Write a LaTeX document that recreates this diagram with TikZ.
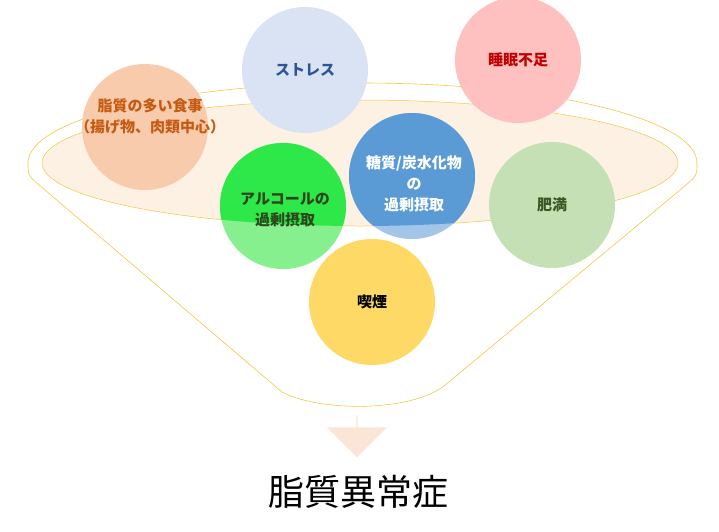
\documentclass[tikz,border=0pt]{standalone}
\usepackage{fontspec}
\setmainfont{Noto Sans CJK JP}
\usetikzlibrary{positioning,shapes.arrows}
\definecolor{funnelline}{HTML}{F2C744}
\definecolor{cream}{HTML}{FDF1E3}
\definecolor{fatfill}{HTML}{F8CBAD}
\definecolor{fattext}{HTML}{C55A11}
\definecolor{stressfill}{HTML}{DAE3F3}
\definecolor{stresstext}{HTML}{2F5597}
\definecolor{sleepfill}{HTML}{FFC0C0}
\definecolor{sleeptext}{HTML}{C00000}
\definecolor{sugarfill}{HTML}{5B9BD5}
\definecolor{sugarlight}{HTML}{A2C5E8}
\definecolor{alcfill}{HTML}{2EE84A}
\definecolor{alclight}{HTML}{86EF8E}
\definecolor{obesefill}{HTML}{C5E0B4}
\definecolor{obesetext}{HTML}{385723}
\definecolor{smokefill}{HTML}{FFD966}
\definecolor{arrowfill}{HTML}{FBE5D6}
\tikzset{
  bubble/.style={circle, minimum size=126pt, inner sep=0pt, align=center,
    font=\bfseries\fontsize{15}{19}\selectfont},
}
\begin{document}
\begin{tikzpicture}[x=1pt,y=-1pt]
\useasboundingbox (0,0) rectangle (719,531);
% funnel outline
\draw[funnelline, line width=0.6pt] (697,163) arc[start angle=0, end angle=-180, x radius=334.5, y radius=80]
  .. controls (28,176) .. (45,190) -- (282,392)
  .. controls (320,412) and (410,412) .. (444,386) -- (680,190)
  .. controls (697,176) .. (697,163);
\path[fill=cream, draw=funnelline, line width=0.5pt] (360,163) ellipse[x radius=318, y radius=63];
% bubbles
\node[bubble, fill=fatfill] (fat) at (145,127) {};
\node[bubble, fill=stressfill, text=stresstext] (stress) at (305,70) {ストレス};
\node[bubble, fill=sleepfill, text=sleeptext] (sleep) at (518,60) {睡眠不足};
\node[bubble, fill=alclight] (alc) at (283,206) {};
\begin{scope}
  \clip (360,163) ellipse[x radius=318, y radius=63];
  \fill[alcfill] (alc) circle[radius=63];
\end{scope}
\node[bubble, fill=sugarlight] (sugar) at (412,176) {};
\begin{scope}
  \clip (360,163) ellipse[x radius=318, y radius=63];
  \fill[sugarfill] (sugar) circle[radius=63];
\end{scope}
\node[bubble, fill=obesefill, text=obesetext] (obese) at (552,205) {肥満};
\node[bubble, fill=smokefill, text=black] (smoke) at (372,302) {喫煙};
% labels
\node[align=center, text=fattext, font=\bfseries\fontsize{15}{21}\selectfont] (fatlabel) at (150,116) {脂質の多い食事\\（揚げ物、肉類中心）};
\node[align=center, text=obesetext!80!black, font=\bfseries\fontsize{15}{21}\selectfont] (alclabel) at (285,210) {アルコールの\\過剰摂取};
\node[align=center, text=white, font=\bfseries\fontsize{15}{21}\selectfont] (sugarlabel) at (414,184) {糖質/炭水化物\\の\\過剰摂取};
% result
\node[single arrow, shape border rotate=270, fill=arrowfill, minimum width=60pt, single arrow head extend=11pt,
  minimum height=42pt, inner sep=0pt] (down) at (357,436) {};
\node[font=\fontsize{36}{40}\selectfont] (result) at (358,492) {脂質異常症};
\end{tikzpicture}
\end{document}
